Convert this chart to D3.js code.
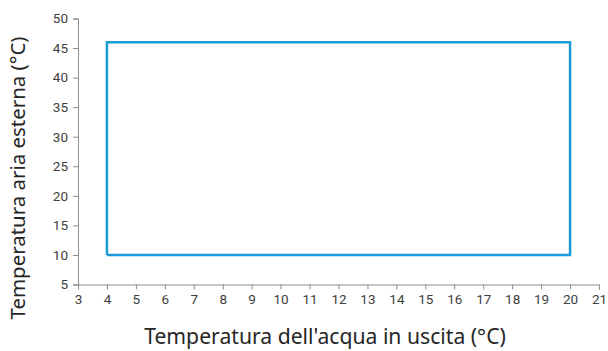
<!DOCTYPE html>
<html>
<head>
<meta charset="utf-8">
<script src="https://cdn.jsdelivr.net/npm/d3@7"></script>
<style>
  body { margin: 0; background: #fff; }
  text { font-family: Roboto, "Noto Sans", sans-serif; }
</style>
</head>
<body>
<svg id="drawing_region"></svg>
<script>
// operating envelope corners (outlet water temp, outdoor air temp)
const water_temps = [4, 20, 20, 4, 4];
const air_temps = [10, 10, 46, 46, 10];

const x_ticks = d3.range(3, 22, 1);
const y_ticks = d3.range(5, 51, 5);

const x_title = "Temperatura dell'acqua in uscita (°C)";
const y_title = "Temperatura aria esterna (°C)";

let config = {
  width: 608,
  height: 351,
  margin: {top: 18.5, right: 9, bottom: 66.5, left: 78}
};

const svg = d3.select('#drawing_region')
  .attr('width', config.width)
  .attr('height', config.height);

const chart_width = config.width - config.margin.left - config.margin.right;
const chart_height = config.height - config.margin.top - config.margin.bottom;

const chart = svg.append('g')
  .attr('transform', `translate(${config.margin.left}, ${config.margin.top})`);

const x_scale = d3.scaleLinear().domain([3, 21]).range([0, chart_width]);
const y_scale = d3.scaleLinear().domain([5, 50]).range([chart_height, 0]);

const xaxis = d3.axisBottom(x_scale).tickValues(x_ticks).tickSize(5).tickPadding(5);
const yaxis = d3.axisLeft(y_scale).tickValues(y_ticks).tickSize(5).tickPadding(5);

const xg = chart.append('g')
  .attr('transform', `translate(0, ${chart_height})`)
  .call(xaxis);
const yg = chart.append('g').call(yaxis);

[xg, yg].forEach(g => {
  g.select('.domain').attr('stroke', '#8c8c8c').attr('stroke-width', 1);
  g.selectAll('.tick line').attr('stroke', '#8c8c8c');
  g.selectAll('.tick text')
    .attr('fill', '#404040')
    .style('font-size', '13.5px')
    .style('font-family', 'Roboto, sans-serif');
});

const line = d3.line()
  .x((d, i) => x_scale(water_temps[i]))
  .y((d, i) => y_scale(air_temps[i]));

chart.append('path')
  .datum(water_temps)
  .attr('d', line)
  .attr('fill', 'none')
  .attr('stroke', '#1a9bd7')
  .attr('stroke-width', 2.5)
  .attr('stroke-linejoin', 'miter');

// titles, scaled to the widths seen in the reference
function fit(sel, target) {
  let w = sel.node().getComputedTextLength();
  let fs = parseFloat(sel.style('font-size'));
  sel.style('font-size', (fs * target / w) + 'px');
}

const xt = svg.append('text')
  .attr('x', 325)
  .attr('y', 344)
  .attr('text-anchor', 'middle')
  .attr('fill', '#262626')
  .style('font-family', '"Noto Sans", sans-serif')
  .style('font-size', '19px')
  .text(x_title);
fit(xt, 362);

const yt = svg.append('text')
  .attr('transform', `translate(25, 178) rotate(-90)`)
  .attr('text-anchor', 'middle')
  .attr('fill', '#262626')
  .style('font-family', '"Noto Sans", sans-serif')
  .style('font-size', '19px')
  .text(y_title);
fit(yt, 283);
</script>
</body>
</html>
